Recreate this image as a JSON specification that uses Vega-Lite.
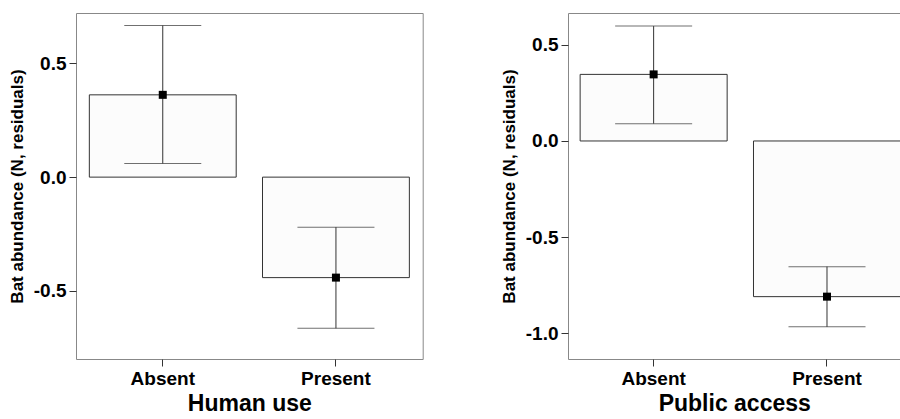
{
  "$schema": "https://vega.github.io/schema/vega-lite/v6.json",
  "padding": {"left": 7, "top": 12, "right": 0, "bottom": 0},
  "background": "white",
  "bounds": "flush",
  "spacing": 145,
  "datasets": {
    "human": [
      {"group": "Absent", "mean": 0.362, "lower": 0.060, "upper": 0.667},
      {"group": "Present", "mean": -0.442, "lower": -0.665, "upper": -0.220}
    ],
    "public": [
      {"group": "Absent", "mean": 0.346, "lower": 0.090, "upper": 0.597},
      {"group": "Present", "mean": -0.809, "lower": -0.966, "upper": -0.653}
    ]
  },
  "config": {
    "font": "Liberation Sans",
    "view": {"stroke": "#888888", "strokeWidth": 1},
    "axis": {
      "grid": false,
      "domain": false,
      "tickColor": "#333333",
      "tickSize": 7,
      "labelFont": "Liberation Sans",
      "labelFontWeight": "bold",
      "labelFontSize": 19,
      "labelColor": "#000000",
      "labelPadding": 3,
      "titleFont": "Liberation Sans",
      "titleFontWeight": "bold",
      "titleColor": "#000000"
    },
    "axisX": {"labelAngle": 0, "titleFontSize": 23, "titlePadding": 4},
    "axisY": {"titleFontSize": 17, "titlePadding": 7, "labelExpr": "datum.value < 0 ? '-' + format(-datum.value, '.1f') : format(datum.value, '.1f')"}
  },
  "hconcat": [
    {
      "width": 346.7,
      "height": 346,
      "data": {"name": "human"},
      "encoding": {
        "x": {
          "field": "group",
          "type": "nominal",
          "title": "Human use",
          "scale": {"paddingInner": 0.152, "paddingOuter": 0.077, "align": 0.5}
        }
      },
      "layer": [
        {
          "mark": {"type": "bar", "fill": "#fcfcfc", "stroke": "#333333", "strokeWidth": 1},
          "encoding": {
            "y": {
              "field": "mean",
              "type": "quantitative",
              "title": "Bat abundance (N, residuals)",
              "scale": {"domain": [-0.8, 0.722], "nice": false, "zero": false},
              "axis": {"values": [-0.5, 0, 0.5]}
            },
            "y2": {"datum": 0}
          }
        },
        {
          "mark": {"type": "rule", "color": "#333333", "strokeWidth": 1},
          "encoding": {
            "y": {"field": "lower", "type": "quantitative"},
            "y2": {"field": "upper"}
          }
        },
        {
          "mark": {"type": "tick", "color": "#333333", "size": 77, "thickness": 1},
          "encoding": {"y": {"field": "lower", "type": "quantitative"}}
        },
        {
          "mark": {"type": "tick", "color": "#333333", "size": 77, "thickness": 1},
          "encoding": {"y": {"field": "upper", "type": "quantitative"}}
        },
        {
          "mark": {"type": "point", "shape": "square", "filled": true, "color": "#000000", "size": 64, "opacity": 1},
          "encoding": {"y": {"field": "mean", "type": "quantitative"}}
        }
      ]
    },
    {
      "width": 332.5,
      "height": 346,
      "data": {"name": "public"},
      "encoding": {
        "x": {
          "field": "group",
          "type": "nominal",
          "title": "Public access",
          "scale": {"paddingInner": 0.152, "paddingOuter": 0.035, "align": 1}
        }
      },
      "layer": [
        {
          "mark": {"type": "bar", "fill": "#fcfcfc", "stroke": "#333333", "strokeWidth": 1},
          "encoding": {
            "y": {
              "field": "mean",
              "type": "quantitative",
              "title": "Bat abundance (N, residuals)",
              "scale": {"domain": [-1.133, 0.665], "nice": false, "zero": false},
              "axis": {"values": [-1, -0.5, 0, 0.5]}
            },
            "y2": {"datum": 0}
          }
        },
        {
          "mark": {"type": "rule", "color": "#333333", "strokeWidth": 1},
          "encoding": {
            "y": {"field": "lower", "type": "quantitative"},
            "y2": {"field": "upper"}
          }
        },
        {
          "mark": {"type": "tick", "color": "#333333", "size": 77, "thickness": 1},
          "encoding": {"y": {"field": "lower", "type": "quantitative"}}
        },
        {
          "mark": {"type": "tick", "color": "#333333", "size": 77, "thickness": 1},
          "encoding": {"y": {"field": "upper", "type": "quantitative"}}
        },
        {
          "mark": {"type": "point", "shape": "square", "filled": true, "color": "#000000", "size": 64, "opacity": 1},
          "encoding": {"y": {"field": "mean", "type": "quantitative"}}
        }
      ]
    }
  ]
}
